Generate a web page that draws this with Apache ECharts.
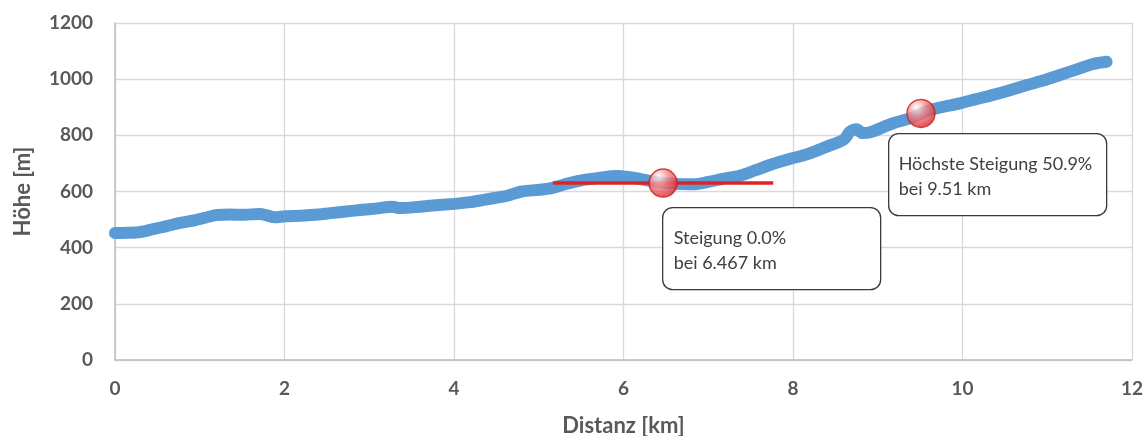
<!DOCTYPE html>
<html>
<head>
<meta charset="utf-8">
<script src="https://cdn.jsdelivr.net/npm/echarts@6/dist/echarts.min.js"></script>
<style>
  html, body { margin: 0; padding: 0; background: #fff; }
  #chart { width: 1148px; height: 436px; }
</style>
</head>
<body>
<div id="chart"></div>
<script>
// Elevation profile: distance along the route [km] and altitude [m]
const distanceKm = [0.00, 0.15, 0.30, 0.45, 0.60, 0.77, 0.95, 1.12, 1.20, 1.35, 1.50, 1.71, 1.80, 1.88, 2.01,
  2.20, 2.40, 2.54, 2.70, 2.89, 3.10, 3.27, 3.36, 3.60, 3.83, 4.01, 4.19, 4.35, 4.54, 4.63, 4.80, 5.01,
  5.15, 5.30, 5.49, 5.70, 5.92, 6.05, 6.19, 6.35, 6.58, 6.82, 7.00, 7.17, 7.37, 7.55, 7.76, 8.00, 8.17,
  8.40, 8.60, 8.67, 8.75, 8.82, 8.90, 9.18, 9.40, 9.58, 9.75, 9.97, 10.15, 10.36, 10.55, 10.76, 10.95,
  11.15, 11.35, 11.54, 11.70];
const altitudeM = [452, 453, 456, 466, 476, 488, 498, 511, 516, 518, 517, 520, 514, 508, 512,
  514, 518, 523, 528, 534, 540, 546, 541, 546, 552, 556, 562, 570, 580, 585, 600, 606,
  612, 625, 639, 648, 655, 652, 645, 636, 628, 626, 634, 645, 656, 675, 698, 719, 733,
  760, 785, 812, 822, 808, 810, 843, 862, 887, 900, 914, 928, 944, 960, 979, 995,
  1015, 1035, 1054, 1062];

// Highlighted points: flattest spot and steepest spot
const pointKm = [6.467, 9.51];
const pointM = [630, 878];
const slopePct = ['0.0', '50.9'];
const pointTitle = ['Steigung', 'Höchste Steigung'];

// Horizontal tangent through the flattest point (half length in km)
const tangentHalfKm = 1.3;

const xTicks = [0, 2, 4, 6, 8, 10, 12];
const yTicks = [0, 200, 400, 600, 800, 1000, 1200];

const profile = distanceKm.map((d, i) => [d, altitudeM[i]]);
const tangent = [[pointKm[0] - tangentHalfKm, pointM[0]], [pointKm[0] + tangentHalfKm, pointM[0]]];
const points = pointKm.map((d, i) => [d, pointM[i]]);

const axisFont = { fontFamily: 'Lato', fontWeight: 'bold', fontSize: 19, color: '#595959' };
const titleFont = { fontFamily: 'Lato', fontWeight: 'bold', fontSize: 22, color: '#595959' };
const boxFont = '18px Lato';

const chart = echarts.init(document.getElementById('chart'), null, { renderer: 'canvas' });

const boxText = i => pointTitle[i] + ' ' + slopePct[i] + '%\nbei ' + pointKm[i] + ' km';

chart.setOption({
  animation: false,
  grid: { left: 115, right: 16, top: 23, bottom: 76, outerBoundsMode: 'none', containLabel: false },
  xAxis: {
    type: 'value', min: xTicks[0], max: xTicks[xTicks.length - 1], interval: 2,
    name: 'Distanz [km]', nameLocation: 'middle', nameGap: 55, nameTextStyle: titleFont,
    axisLine: { show: true, lineStyle: { color: '#bfbfbf', width: 1.5 } },
    axisTick: { show: false },
    axisLabel: Object.assign({ margin: 19, formatter: v => String(v) }, axisFont),
    splitLine: { show: true, lineStyle: { color: '#d9d9d9', width: 1.3 } }
  },
  yAxis: {
    type: 'value', min: yTicks[0], max: yTicks[yTicks.length - 1], interval: 200,
    name: 'Höhe [m]', nameLocation: 'middle', nameGap: 81, nameTextStyle: titleFont,
    axisLine: { show: true, lineStyle: { color: '#bfbfbf', width: 1.5 } },
    axisTick: { show: false },
    axisLabel: Object.assign({ margin: 22, formatter: v => String(v) }, axisFont),
    splitLine: { show: true, lineStyle: { color: '#d9d9d9', width: 1.3 } }
  },
  series: [
    {
      name: 'Profil', type: 'line', data: profile, showSymbol: false, smooth: 0.3,
      lineStyle: { color: '#5b9bd5', width: 12, cap: 'round', join: 'round' }, z: 2
    },
    {
      name: 'Tangente', type: 'line', data: tangent, showSymbol: false,
      lineStyle: { color: '#e02424', width: 3.5 }, z: 3
    },
    {
      name: 'Punkte', type: 'scatter', data: points, symbolSize: 28, z: 4,
      itemStyle: {
        color: new echarts.graphic.RadialGradient(0.35, 0.28, 0.8, [
          { offset: 0, color: '#ffffff' },
          { offset: 0.4, color: '#f48a8a' },
          { offset: 0.8, color: '#e03a3a' },
          { offset: 1, color: '#cc1f1f' }
        ]),
        borderColor: '#c81e1e', borderWidth: 1.5
      }
    }
  ],
  graphic: [
    {
      type: 'group', left: 662, top: 207, z: 100,
      children: [
        { type: 'rect', z: 100, shape: { x: 0, y: 0, width: 218, height: 82, r: 10 },
          style: { fill: '#ffffff', stroke: '#3a3a3a', lineWidth: 1.3 } },
        { type: 'text', z: 101, x: 11, y: 18,
          style: { text: boxText(0), font: boxFont, fill: '#404040', lineHeight: 25 } }
      ]
    },
    {
      type: 'group', left: 888, top: 133, z: 100,
      children: [
        { type: 'rect', z: 100, shape: { x: 0, y: 0, width: 218, height: 82, r: 10 },
          style: { fill: '#ffffff', stroke: '#3a3a3a', lineWidth: 1.3 } },
        { type: 'text', z: 101, x: 10, y: 18,
          style: { text: boxText(1), font: boxFont, fill: '#404040', lineHeight: 25 } }
      ]
    }
  ]
});
</script>
</body>
</html>
